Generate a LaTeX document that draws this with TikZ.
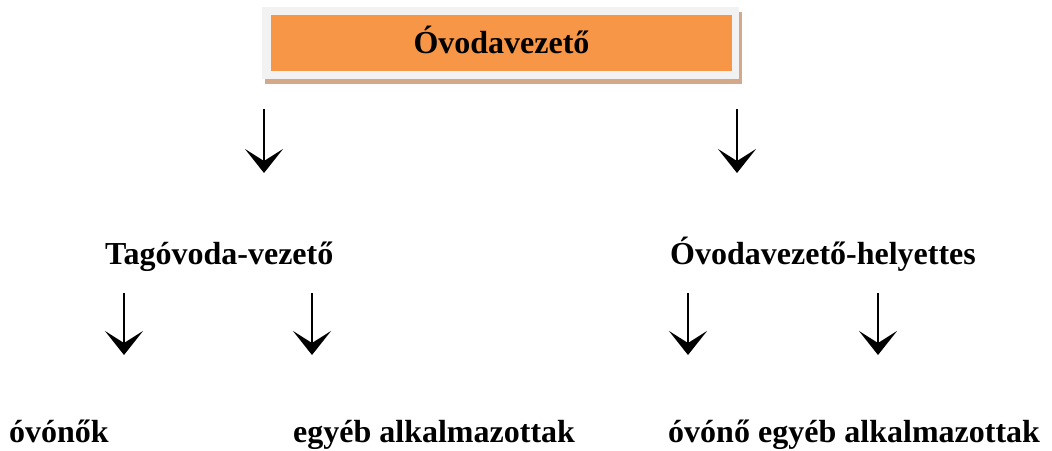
\documentclass[tikz,border=0pt]{standalone}
\usepackage{fontspec}
\setmainfont{Liberation Serif}
\usetikzlibrary{
    arrows.meta,
    positioning
}
\definecolor{boxorange}{HTML}{F79646}
\definecolor{boxgray}{HTML}{F2F2F2}
\definecolor{shadowtan}{HTML}{D3A98A}
\tikzset{
    role/.style={inner sep=0pt, anchor=base west, font=\fontsize{32}{38}\selectfont\bfseries},
    down/.style={line width=2.6pt, -{Stealth[length=24pt, width=38pt, inset=12pt]}}
}

\begin{document}
\begin{tikzpicture}[x=1pt, y=-1pt]
    \useasboundingbox (0, 0) rectangle (1052, 450);
    % head box with shadow
    \fill[shadowtan] (265, 12) rectangle (742, 84);
    \fill[boxgray] (262, 7) rectangle (739, 79);
    \node[role, anchor=center, fill=boxorange, minimum width=461pt, minimum height=56pt,
          text height=24pt, text depth=4pt] (head) at (501.5, 43) {Óvodavezető};
    % second row
    \node[role] (tago) at (105, 264) {Tagóvoda-vezető};
    \node[role] (helyettes) at (670, 264) {Óvodavezető-helyettes};
    % third row
    \node[role] (ovonok) at (9, 442) {óvónők};
    \node[role] (egyebA) at (293, 442) {egyéb alkalmazottak};
    \node[role] (ovono) at (668, 442) {óvónő};
    \node[role] (egyebB) at (758, 442) {egyéb alkalmazottak};
    % arrow ends
    \coordinate (h1) at (264, 109);   \coordinate (t1) at (264, 173);
    \coordinate (h2) at (737, 109);   \coordinate (t2) at (737, 173);
    \coordinate (h3) at (124, 293);   \coordinate (t3) at (124, 355);
    \coordinate (h4) at (312, 293);   \coordinate (t4) at (312, 355);
    \coordinate (h5) at (688, 293);   \coordinate (t5) at (688, 355);
    \coordinate (h6) at (878, 293);   \coordinate (t6) at (878, 355);
    \draw[down] (h1) -- (t1);
    \draw[down] (h2) -- (t2);
    \draw[down] (h3) -- (t3);
    \draw[down] (h4) -- (t4);
    \draw[down] (h5) -- (t5);
    \draw[down] (h6) -- (t6);
\end{tikzpicture}
\end{document}
